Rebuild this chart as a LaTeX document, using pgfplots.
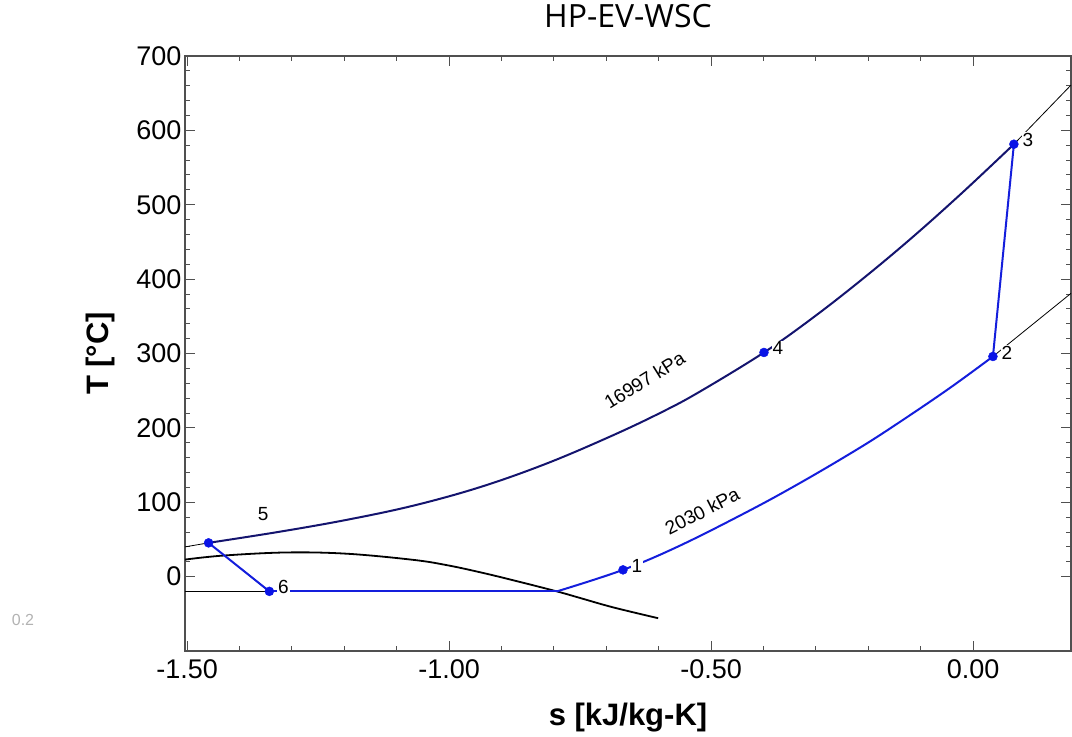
\documentclass[border=0pt]{standalone}
\usepackage{fontspec}
\setmainfont{Liberation Sans}
\newfontfamily\titlefont{Open Sans}
\usepackage{pgfplots}
\pgfplotsset{compat=1.18}
\definecolor{navyl}{RGB}{20,20,110}
\definecolor{bluel}{RGB}{20,30,220}
\definecolor{dotblue}{RGB}{10,20,230}
\definecolor{axgray}{RGB}{80,80,80}
\tikzset{lbl/.style={anchor=west, xshift=7.5pt, yshift=4pt, fill=white, inner sep=1pt, font=\fontsize{19}{19}\selectfont}}
\begin{document}
\begin{tikzpicture}
\begin{axis}[
  scale only axis,
  width=886pt, height=595pt,
  xmin=-1.504, xmax=0.187,
  ymin=-100, ymax=700,
  xtick={-1.5,-1,-0.5,0},
  minor x tick num=4,
  ytick={0,100,...,700},
  minor y tick num=4,
  axis line style={axgray, line width=1.2pt},
  every tick/.style={axgray, line width=1pt},
  major tick length=10pt, minor tick length=5pt,
  tick align=inside,
  /pgf/number format/assume math mode=true,
  x tick label style={/pgf/number format/fixed, /pgf/number format/fixed zerofill, /pgf/number format/precision=2, yshift=-5pt},
  ticklabel style={font=\fontsize{27}{30}\selectfont},
  xlabel={s [kJ/kg-K]}, ylabel={T [°C]},
  every axis x label/.style={at={([yshift=-67pt]axis description cs:0.5,0)}, anchor=center},
  every axis y label/.style={at={([xshift=-85pt]axis description cs:0,0.5)}, rotate=90, anchor=center},
  label style={font=\fontsize{31}{34}\selectfont\bfseries},
  title={HP-EV-WSC},
  title style={at={([yshift=34pt]axis description cs:0.5,1)}, anchor=center, font=\titlefont\fontsize{32}{34}\selectfont},
]
% saturation dome
\addplot[black, line width=1.8pt, smooth, tension=0.6] coordinates {
(-1.504,22.9)(-1.431,28.3)(-1.310,32.5)(-1.195,30.8)(-1.069,22.6)(-1.004,15.4)(-0.941,5.9)(-0.878,-4.8)(-0.794,-19.9)(-0.750,-28.7)(-0.687,-41.3)(-0.601,-55.9)};
% thin extensions
\addplot[black, line width=0.8pt] coordinates {(-1.504,-19.8)(-1.343,-19.8)};
\addplot[black, line width=0.8pt] coordinates {(-1.504,40)(-1.459,45.4)};
\addplot[black, line width=0.8pt] coordinates {(0.078,581.4)(0.187,660.9)};
\addplot[black, line width=0.8pt] coordinates {(0.038,296)(0.187,380.9)};
% high pressure isobar
\addplot[navyl, line width=2pt, smooth, tension=0.6] coordinates {
(-1.459,45.4)(-1.323,60.4)(-1.195,76.4)(-1.069,95.3)(-0.941,120.3)(-0.813,152.3)(-0.687,190.1)(-0.592,221.9)(-0.521,248.9)(-0.399,301.4)(-0.305,348.4)(-0.210,400.7)(-0.115,456.7)(-0.019,517.2)(0.078,581.4)};
% low pressure isobar
\addplot[bluel, line width=2pt, smooth, tension=0.6] coordinates {
(-0.794,-19.8)(-0.668,9.1)(-0.559,41.8)(-0.426,89.0)(-0.330,126.0)(-0.235,165.2)(-0.164,196.6)(-0.050,250.8)(0.038,296)};
% cycle segments
\addplot[bluel, line width=2pt] coordinates {(-1.343,-19.8)(-0.794,-19.8)};
\addplot[bluel, line width=2pt] coordinates {(-1.459,45.4)(-1.343,-19.8)};
\addplot[bluel, line width=2pt] coordinates {(0.038,296)(0.078,581.4)};
% state points
\addplot[only marks, mark=*, mark size=4.5pt, dotblue, mark options={draw=dotblue, fill=dotblue}] coordinates {
(-0.668,9.1)(0.038,296)(0.078,581.4)(-0.399,301.4)(-1.459,45.4)(-1.343,-19.8)};
\node[lbl] at (axis cs:-0.668,9.1) {1};
\node[lbl] at (axis cs:0.038,296) {2};
\node[lbl] at (axis cs:0.078,581.4) {3};
\node[lbl] at (axis cs:-0.399,301.4) {4};
\node[lbl] at (axis cs:-1.343,-19.8) {6};
\node[font=\fontsize{19}{19}\selectfont] at (axis cs:-1.355,84.8) {5};
\node[rotate=32, font=\fontsize{19}{19}\selectfont] at (axis cs:-0.627,264.2) {16997 kPa};
\node[rotate=27, font=\fontsize{19}{19}\selectfont] at (axis cs:-0.517,87.9) {2030 kPa};
\coordinate (sw) at (rel axis cs:0,0);
\coordinate (ne) at (rel axis cs:1,1);
\end{axis}
\node[text=black!30, font=\fontsize{16}{16}\selectfont] at ([xshift=-162pt,yshift=31pt]sw) {0.2};
\pgfresetboundingbox
\path ([xshift=-185pt,yshift=-85pt]sw) rectangle ([xshift=1pt,yshift=56pt]ne);
\end{tikzpicture}
\end{document}
